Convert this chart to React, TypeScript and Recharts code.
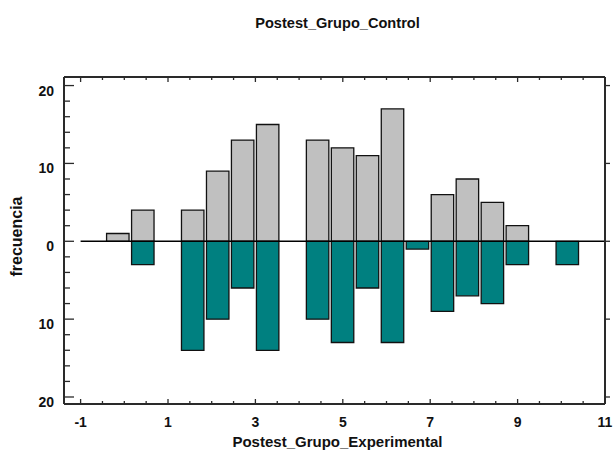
import React from 'react';
import { BarChart, Bar, XAxis, YAxis, ReferenceLine, Label } from 'recharts';

// Bin centres (x) of the back-to-back histogram
const BIN_CENTERS = [-0.143, 0.429, 1.0, 1.571, 2.143, 2.714, 3.286, 3.857, 4.429, 5.0, 5.571, 6.143, 6.714, 7.286, 7.857, 8.429, 9.0, 9.571, 10.143];
// Postest_Grupo_Control frequencies (upper, gray)
const CONTROL_FREQ = [1, 4, 0, 4, 9, 13, 15, 0, 13, 12, 11, 17, 0, 6, 8, 5, 2, 0, 0];
// Postest_Grupo_Experimental frequencies (lower, teal)
const EXPERIMENTAL_FREQ = [0, 3, 0, 14, 10, 6, 14, 0, 10, 13, 6, 13, 1, 9, 7, 8, 3, 0, 3];

const X_TICKS = [-1, -0.5, 0, 0.5, 1, 1.5, 2, 2.5, 3, 3.5, 4, 4.5, 5, 5.5, 6, 6.5, 7, 7.5, 8, 8.5, 9, 9.5, 10, 10.5, 11];
const X_LABELED = [-1, 1, 3, 5, 7, 9, 11];
const Y_TICKS = [-20, -18, -16, -14, -12, -10, -8, -6, -4, -2, 0, 2, 4, 6, 8, 10, 12, 14, 16, 18, 20];
const Y_LABELED = [-20, -10, 0, 10, 20];

const X_DOMAIN: [number, number] = [-1.38, 11];
const Y_DOMAIN: [number, number] = [-20.9, 21.1];

const data = BIN_CENTERS.map((x, i) => ({
  x,
  control: CONTROL_FREQ[i],
  experimental: -EXPERIMENTAL_FREQ[i],
}));

const FONT = '"Liberation Sans", Arial, Helvetica, sans-serif';
const AXIS_COLOR = '#2a2a2a';

const BottomTick = (props: any) => {
  const { x, y, payload } = props;
  const v = payload.value;
  const major = X_LABELED.includes(v);
  return (
    <g>
      <line x1={x} x2={x} y1={y} y2={y - (major ? 5 : 3)} stroke={AXIS_COLOR} strokeWidth={1.3} />
      {major && (
        <text x={x} y={y + 23} textAnchor="middle" fontFamily={FONT} fontWeight="bold" fontSize={14} fill="#111">
          {v}
        </text>
      )}
    </g>
  );
};

const TopTick = (props: any) => {
  const { x, y, payload } = props;
  const major = X_LABELED.includes(payload.value);
  return <line x1={x} x2={x} y1={y} y2={y + (major ? 5 : 3)} stroke={AXIS_COLOR} strokeWidth={1.3} />;
};

const LeftTick = (props: any) => {
  const { x, y, payload } = props;
  const v = payload.value;
  const major = Y_LABELED.includes(v);
  return (
    <g>
      <line x1={x} x2={x + (major ? 10 : 6)} y1={y} y2={y} stroke={AXIS_COLOR} strokeWidth={1.3} />
      {major && (
        <text x={x - 10} y={y + 10} textAnchor="end" fontFamily={FONT} fontWeight="bold" fontSize={14} fill="#111">
          {Math.abs(v)}
        </text>
      )}
    </g>
  );
};

const RightTick = (props: any) => {
  const { x, y } = props;
  return <line x1={x} x2={x + 5} y1={y} y2={y} stroke={AXIS_COLOR} strokeWidth={1.3} />;
};

export default function App() {
  return (
    <div style={{ position: 'absolute', left: 0, top: 0, width: 614, height: 457, background: '#fff' }}>
      <BarChart
        width={614}
        height={457}
        data={data}
        stackOffset="sign"
        margin={{ top: 76, right: 0, bottom: 0, left: 0 }}
      >
        <XAxis
          xAxisId="b"
          dataKey="x"
          orientation="bottom"
          type="number"
          domain={X_DOMAIN}
          allowDataOverflow
          ticks={X_TICKS}
          interval={0}
          tickSize={0}
          tickMargin={0}
          tickLine={false}
          tick={<BottomTick />}
          axisLine={{ stroke: AXIS_COLOR, strokeWidth: 2 }}
          height={53}
        >
          <Label
            value="Postest_Grupo_Experimental"
            position="insideBottom"
            offset={10}
            dx={3}
            style={{ fontFamily: FONT, fontWeight: 'bold', fontSize: 15, fill: '#111' }}
          />
        </XAxis>
        <XAxis xAxisId={0} dataKey="x" type="number" domain={X_DOMAIN} allowDataOverflow hide height={0} />
        <XAxis
          xAxisId="t"
          dataKey="x"
          orientation="top"
          type="number"
          domain={X_DOMAIN}
          allowDataOverflow
          ticks={X_TICKS}
          interval={0}
          tickSize={0}
          tickMargin={0}
          tickLine={false}
          tick={<TopTick />}
          axisLine={{ stroke: AXIS_COLOR, strokeWidth: 2 }}
          height={1}
        >
          <Label
            value="Postest_Grupo_Control"
            position="top"
            offset={48}
            dx={3}
            style={{ fontFamily: FONT, fontWeight: 'bold', fontSize: 14.6, fill: '#111' }}
          />
        </XAxis>
        <YAxis
          yAxisId={0}
          orientation="left"
          type="number"
          domain={Y_DOMAIN}
          allowDataOverflow
          ticks={Y_TICKS}
          interval={0}
          tickSize={0}
          tickMargin={0}
          tickLine={false}
          tick={<LeftTick />}
          axisLine={{ stroke: AXIS_COLOR, strokeWidth: 2 }}
          width={64}
        >
          <Label
            value="frecuencia"
            angle={-90}
            position="insideLeft"
            offset={16}
            dy={-4}
            style={{ fontFamily: FONT, fontWeight: 'bold', fontSize: 16, fill: '#111', textAnchor: 'middle' }}
          />
        </YAxis>
        <YAxis
          yAxisId="r"
          orientation="right"
          type="number"
          domain={Y_DOMAIN}
          allowDataOverflow
          ticks={Y_LABELED}
          interval={0}
          tickSize={0}
          tickMargin={0}
          tickLine={false}
          tick={<RightTick />}
          axisLine={{ stroke: AXIS_COLOR, strokeWidth: 2 }}
          width={9}
        />
        <Bar
          dataKey="control"
          stackId="s"
          fill="#c0c0c0"
          stroke="#111"
          strokeWidth={1.3}
          barSize={25}
          isAnimationActive={false}
        />
        <Bar
          dataKey="experimental"
          stackId="s"
          fill="#008080"
          stroke="#111"
          strokeWidth={1.3}
          barSize={25}
          isAnimationActive={false}
        />
        <ReferenceLine
          segment={[{ x: -1, y: 0 }, { x: 11, y: 0 }]}
          stroke="#000"
          strokeWidth={1.6}
          ifOverflow="visible"
        />
      </BarChart>
    </div>
  );
}
